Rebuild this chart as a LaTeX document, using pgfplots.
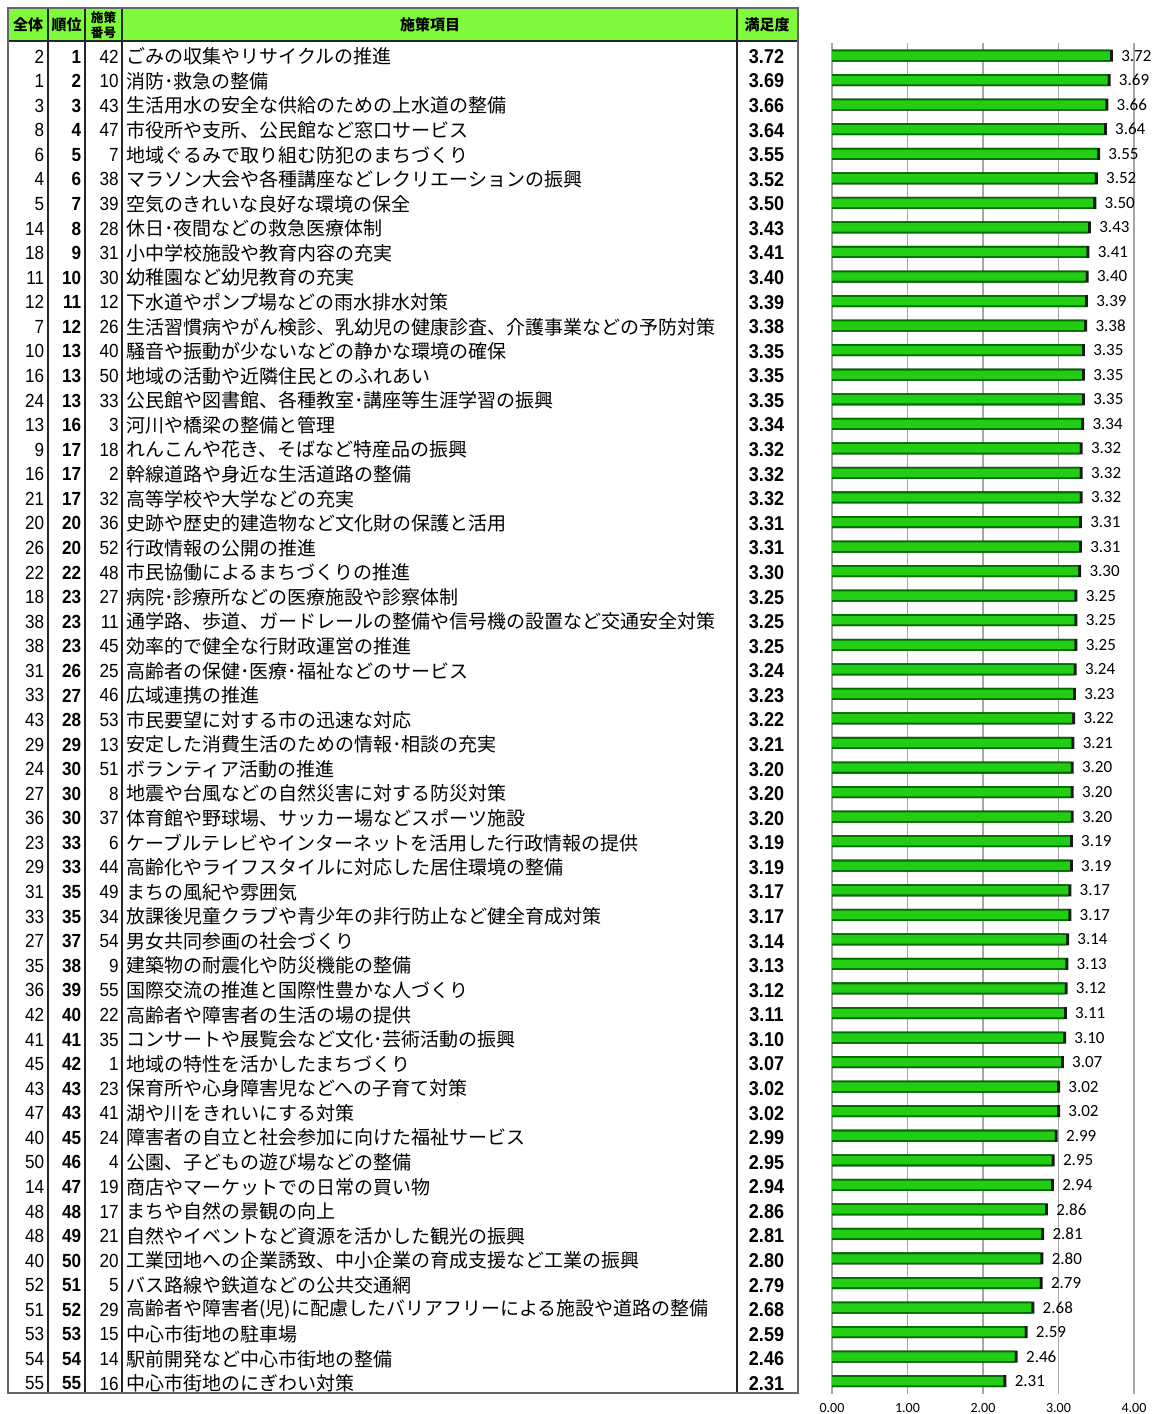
\documentclass[border=0pt]{standalone}
\usepackage{pgfplots}
\usepackage{pgfplotstable}
\pgfplotsset{compat=1.18}
\usepackage{fontspec}
\newfontfamily\jp{Noto Sans CJK JP}
\newfontfamily\num[FakeStretch=0.9]{Liberation Sans}
\newfontfamily\carl{Carlito}
\definecolor{headgreen}{RGB}{128,250,60}
\definecolor{bardark}{RGB}{0,110,0}
\definecolor{barlight}{RGB}{35,205,20}

\pgfplotstableread[col sep=comma]{
row,all,rank,no,name,val
1,2,1,42,ごみの収集やリサイクルの推進,3.72
2,1,2,10,消防･救急の整備,3.69
3,3,3,43,生活用水の安全な供給のための上水道の整備,3.66
4,8,4,47,市役所や支所、公民館など窓口サービス,3.64
5,6,5,7,地域ぐるみで取り組む防犯のまちづくり,3.55
6,4,6,38,マラソン大会や各種講座などレクリエーションの振興,3.52
7,5,7,39,空気のきれいな良好な環境の保全,3.50
8,14,8,28,休日･夜間などの救急医療体制,3.43
9,18,9,31,小中学校施設や教育内容の充実,3.41
10,11,10,30,幼稚園など幼児教育の充実,3.40
11,12,11,12,下水道やポンプ場などの雨水排水対策,3.39
12,7,12,26,生活習慣病やがん検診、乳幼児の健康診査、介護事業などの予防対策,3.38
13,10,13,40,騒音や振動が少ないなどの静かな環境の確保,3.35
14,16,13,50,地域の活動や近隣住民とのふれあい,3.35
15,24,13,33,公民館や図書館、各種教室･講座等生涯学習の振興,3.35
16,13,16,3,河川や橋梁の整備と管理,3.34
17,9,17,18,れんこんや花き、そばなど特産品の振興,3.32
18,16,17,2,幹線道路や身近な生活道路の整備,3.32
19,21,17,32,高等学校や大学などの充実,3.32
20,20,20,36,史跡や歴史的建造物など文化財の保護と活用,3.31
21,26,20,52,行政情報の公開の推進,3.31
22,22,22,48,市民協働によるまちづくりの推進,3.30
23,18,23,27,病院･診療所などの医療施設や診察体制,3.25
24,38,23,11,通学路、歩道、ガードレールの整備や信号機の設置など交通安全対策,3.25
25,38,23,45,効率的で健全な行財政運営の推進,3.25
26,31,26,25,高齢者の保健･医療･福祉などのサービス,3.24
27,33,27,46,広域連携の推進,3.23
28,43,28,53,市民要望に対する市の迅速な対応,3.22
29,29,29,13,安定した消費生活のための情報･相談の充実,3.21
30,24,30,51,ボランティア活動の推進,3.20
31,27,30,8,地震や台風などの自然災害に対する防災対策,3.20
32,36,30,37,体育館や野球場、サッカー場などスポーツ施設,3.20
33,23,33,6,ケーブルテレビやインターネットを活用した行政情報の提供,3.19
34,29,33,44,高齢化やライフスタイルに対応した居住環境の整備,3.19
35,31,35,49,まちの風紀や雰囲気,3.17
36,33,35,34,放課後児童クラブや青少年の非行防止など健全育成対策,3.17
37,27,37,54,男女共同参画の社会づくり,3.14
38,35,38,9,建築物の耐震化や防災機能の整備,3.13
39,36,39,55,国際交流の推進と国際性豊かな人づくり,3.12
40,42,40,22,高齢者や障害者の生活の場の提供,3.11
41,41,41,35,コンサートや展覧会など文化･芸術活動の振興,3.10
42,45,42,1,地域の特性を活かしたまちづくり,3.07
43,43,43,23,保育所や心身障害児などへの子育て対策,3.02
44,47,43,41,湖や川をきれいにする対策,3.02
45,40,45,24,障害者の自立と社会参加に向けた福祉サービス,2.99
46,50,46,4,公園、子どもの遊び場などの整備,2.95
47,14,47,19,商店やマーケットでの日常の買い物,2.94
48,48,48,17,まちや自然の景観の向上,2.86
49,48,49,21,自然やイベントなど資源を活かした観光の振興,2.81
50,40,50,20,工業団地への企業誘致、中小企業の育成支援など工業の振興,2.80
51,52,51,5,バス路線や鉄道などの公共交通網,2.79
52,51,52,29,高齢者や障害者(児)に配慮したバリアフリーによる施設や道路の整備,2.68
53,53,53,15,中心市街地の駐車場,2.59
54,54,54,14,駅前開発など中心市街地の整備,2.46
55,55,55,16,中心市街地のにぎわい対策,2.31
}\datatable

\pgfplotsset{
  tabtext/.style={only marks, mark=none, nodes near coords,
    point meta=explicit symbolic,
    every node near coord/.append style={inner sep=0pt, text=black, #1}},
}

\begin{document}
\begin{tikzpicture}
% ---------- table (pixel coordinate system) ----------
\begin{axis}[at={(0,0)}, anchor=south west, scale only axis,
  width=578pt, height=707pt, xmin=0, xmax=1156, ymin=0, ymax=1414,
  y dir=reverse, hide axis, clip=false]
  \fill[headgreen] (axis cs:8,8) rectangle (axis cs:798,41);
  % column separators
  \pgfplotsinvokeforeach{48,85,122,737}{
    \draw[black!85, line width=0.6pt] (axis cs:#1,8) -- (axis cs:#1,1393);
  }
  \draw[black!85, line width=0.7pt] (axis cs:8,41) -- (axis cs:798,41);
  \draw[black!60, line width=1pt] (axis cs:8,8) rectangle (axis cs:798,1393);
  % header
  \node[font=\jp\bfseries\fontsize{7.5}{8}\selectfont] at (axis cs:28,25) {全体};
  \node[font=\jp\bfseries\fontsize{7.5}{8}\selectfont] at (axis cs:66.5,25) {順位};
  \node[font=\jp\bfseries\fontsize{6.3}{6.5}\selectfont] at (axis cs:103.5,17.5) {施策};
  \node[font=\jp\bfseries\fontsize{6.3}{6.5}\selectfont] at (axis cs:103.5,32.5) {番号};
  \node[font=\jp\bfseries\fontsize{7.5}{8}\selectfont] at (axis cs:430,25) {施策項目};
  \node[font=\jp\bfseries\fontsize{7.5}{8}\selectfont] at (axis cs:767,25) {満足度};
  % rows
  \addplot[tabtext={anchor=east, font=\num\fontsize{9.5}{10}\selectfont}]
    table[x expr=44.5, y expr=56.5+(\thisrow{row}-1)*24.574, meta=all] {\datatable};
  \addplot[tabtext={anchor=east, font=\num\bfseries\fontsize{9.5}{10}\selectfont}]
    table[x expr=81.5, y expr=56.5+(\thisrow{row}-1)*24.574, meta=rank] {\datatable};
  \addplot[tabtext={anchor=east, font=\num\fontsize{9.5}{10}\selectfont}]
    table[x expr=119, y expr=56.5+(\thisrow{row}-1)*24.574, meta=no] {\datatable};
  \addplot[tabtext={anchor=west, font=\jp\fontsize{9.5}{10}\selectfont}]
    table[x expr=126, y expr=56.5+(\thisrow{row}-1)*24.574, meta=name] {\datatable};
  \addplot[tabtext={anchor=center, font=\num\bfseries\fontsize{10}{10}\selectfont}]
    table[x expr=766.5, y expr=56.5+(\thisrow{row}-1)*24.574, meta=val] {\datatable};
\end{axis}
% ---------- bar chart ----------
\begin{axis}[at={(416pt,10.25pt)}, anchor=south west, scale only axis,
  width=151pt, height=675.1pt,
  xmin=0, xmax=4, ymin=0.5, ymax=55.5, y dir=reverse,
  axis line style={draw=none}, ytick=\empty,
  xtick={0,1,2,3,4}, xticklabels={0.00,1.00,2.00,3.00,4.00},
  major tick length=0pt,
  xmajorgrids, grid style={black!35, line width=0.6pt},
  xticklabel style={anchor=center, yshift=-7.25pt, font=\carl\fontsize{7}{7}\selectfont, text=black},
  clip=false]
  \addplot[xbar, bar shift=0pt, bar width=6pt, fill=black!90, draw=none,
    nodes near coords, point meta=explicit symbolic,
    every node near coord/.append style={anchor=west, inner sep=0pt, xshift=4pt,
      font=\carl\fontsize{8.5}{8.5}\selectfont, text=black}]
    table[x=val, y=row, meta=val] {\datatable};
  \addplot[xbar, bar shift=0pt, bar width=6pt, draw=none, fill=bardark]
    table[x expr=\thisrow{val}-0.04, y=row] {\datatable};
  \addplot[xbar, bar shift=0pt, bar width=4.2pt, draw=none, fill=barlight]
    table[x expr=\thisrow{val}-0.04, y=row] {\datatable};
\end{axis}
\pgfresetboundingbox
\path[use as bounding box] (0,0) rectangle (578pt,707pt);
\end{tikzpicture}
\end{document}
